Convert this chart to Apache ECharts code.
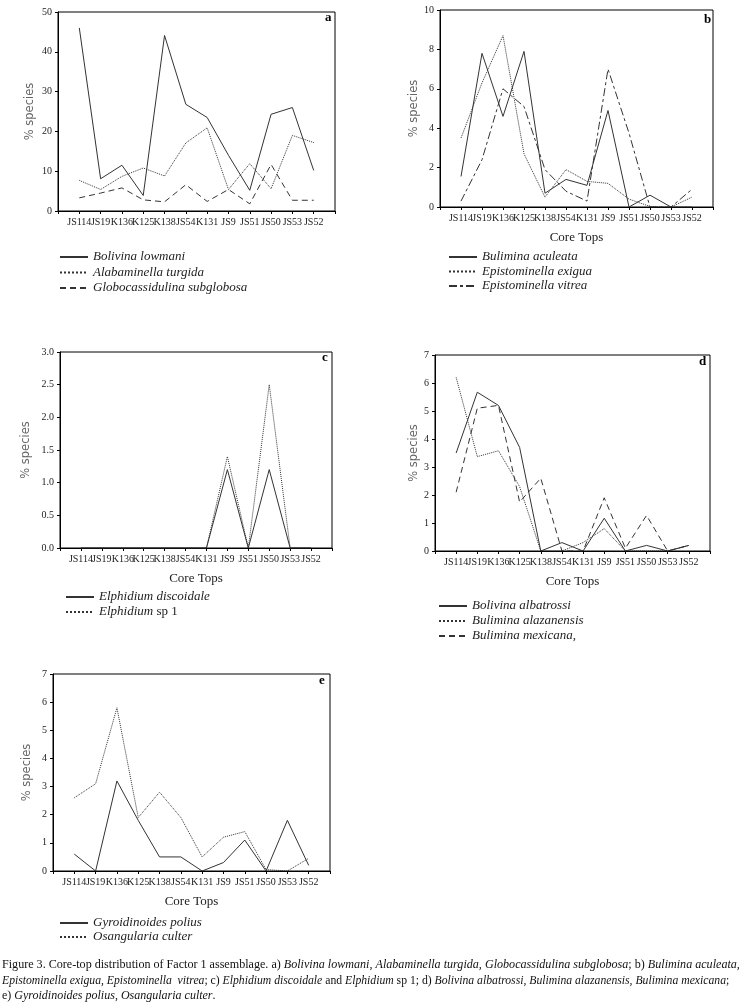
<!DOCTYPE html>
<html>
<head>
<meta charset="utf-8">
<script src="https://cdn.jsdelivr.net/npm/echarts@6/dist/echarts.min.js"></script>
<style>
html,body{margin:0;padding:0;background:#fff;}
#c{width:747px;height:1008px;}
</style>
</head>
<body>
<div id="c"></div>
<script>
// ---- data ----
const coreTops = ['JS114','JS19','K136','K125','K138','JS54','K131','JS9','JS51','JS50','JS53','JS52'];

// panel a
const bolivinaLowmani = [46.0, 8.1, 11.5, 3.9, 44.1, 26.8, 23.5, 14.0, 5.2, 24.3, 26.0, 10.2];
const alabaminellaTurgida = [7.7, 5.4, 8.7, 10.8, 8.8, 17.1, 20.9, 5.4, 11.9, 5.6, 19.0, 17.2];
const globocassidulinaSubglobosa = [3.3, 4.5, 5.8, 2.8, 2.3, 6.6, 2.4, 5.4, 1.8, 11.7, 2.7, 2.7];
// panel b
const buliminaAculeata = [1.55, 7.8, 4.6, 7.9, 0.7, 1.4, 1.1, 4.9, 0, 0.6, 0, 0];
const epistominellaExigua = [3.5, 6.3, 8.7, 2.7, 0.5, 1.9, 1.3, 1.2, 0.4, 0.03, 0, 0.5];
const epistominellaVitrea = [0.3, 2.4, 6.0, 5.1, 1.9, 0.8, 0.3, 7.0, 3.75, 0, 0, 0.9];
// panel c
const elphidiumDiscoidale = [0, 0, 0, 0, 0, 0, 0, 1.2, 0, 1.2, 0, 0];
const elphidiumSp1 = [0, 0, 0, 0, 0, 0, 0, 1.4, 0, 2.5, 0, 0];
// panel d
const bolivinaAlbatrossi = [3.5, 5.67, 5.2, 3.7, 0, 0.3, 0, 1.17, 0, 0.2, 0, 0.2];
const buliminaAlazanensis = [6.2, 3.37, 3.58, 2.3, 0, 0, 0.3, 0.8, 0, 0, 0, 0.2];
const buliminaMexicana = [2.1, 5.1, 5.2, 1.75, 2.6, 0, 0, 1.9, 0.1, 1.27, 0, 0.2];
// panel e
const gyroidinoidesPolius = [0.6, 0, 3.2, 1.8, 0.5, 0.5, 0, 0.3, 1.1, 0, 1.8, 0.2];
const osangulariaCulter = [2.6, 3.1, 5.8, 1.9, 2.8, 1.9, 0.5, 1.2, 1.4, 0.05, 0, 0.45];

// y-axis scales
const yMax = [50, 10, 3, 7, 7];
const yStep = [10, 2, 0.5, 1, 1];

// ---- layout ----
const SERIF = '"Liberation Serif","Times New Roman",serif';
const panels = [
  {left:58, top:12, width:277, height:199, nameGap:22, xName:'', letter:'a', lx:329, ly:19,
   legend:{left:59, top:250, gap:1.5},
   series:[['Bolivina lowmani', bolivinaLowmani, 'solid'], ['Alabaminella turgida', alabaminellaTurgida, 'dotted'], ['Globocassidulina subglobosa', globocassidulinaSubglobosa, [6,4]]]},
  {left:440, top:10, width:273, height:197, nameGap:20, xName:'Core Tops', letter:'b', lx:708, ly:21,
   legend:{left:448, top:250, gap:0.5},
   series:[['Bulimina aculeata', buliminaAculeata, 'solid'], ['Epistominella exigua', epistominellaExigua, 'dotted'], ['Epistominella vitrea', epistominellaVitrea, [8,3,3,3]]]},
  {left:60, top:352, width:272, height:196, nameGap:28, xName:'Core Tops', letter:'c', lx:326, ly:359,
   legend:{left:65, top:590, gap:1},
   series:[['Elphidium discoidale', elphidiumDiscoidale, 'solid'], ['Elphidium sp 1', elphidiumSp1, 'dotted']]},
  {left:435, top:355, width:275, height:196, nameGap:15, xName:'Core Tops', letter:'d', lx:703, ly:363,
   legend:{left:438, top:599, gap:1},
   series:[['Bolivina albatrossi', bolivinaAlbatrossi, 'solid'], ['Bulimina alazanensis', buliminaAlazanensis, 'dotted'], ['Bulimina mexicana,', buliminaMexicana, [6,4]]]},
  {left:53, top:674, width:277, height:197, nameGap:20, xName:'Core Tops', letter:'e', lx:323, ly:682,
   legend:{left:59, top:916, gap:0},
   series:[['Gyroidinoides polius', gyroidinoidesPolius, 'solid'], ['Osangularia culter', osangulariaCulter, 'dotted']]}
];

const cats = [''].concat(coreTops, ['']);
const grid = [], xAxis = [], yAxis = [], series = [], legend = [], graphic = [];

panels.forEach((p, i) => {
  grid.push({left:p.left, top:p.top, width:p.width, height:p.height, show:true,
    borderColor:'#000', borderWidth:1, backgroundColor:'#fff', containLabel:false});
  xAxis.push({type:'category', gridIndex:i, data:cats, boundaryGap:false,
    axisLine:{lineStyle:{color:'#000', width:1}},
    axisTick:{show:true, length:3, lineStyle:{color:'#000'}},
    axisLabel:{interval:0, fontFamily:SERIF, fontSize:10, color:'#222', margin:6},
    name:p.xName, nameLocation:'middle', nameGap:24,
    nameTextStyle:{fontFamily:SERIF, fontSize:13, color:'#222'},
    splitLine:{show:false}});
  yAxis.push({type:'value', gridIndex:i, min:0, max:yMax[i], interval:yStep[i],
    axisLine:{show:true, lineStyle:{color:'#000', width:1}},
    axisTick:{show:true, length:3, lineStyle:{color:'#000'}},
    axisLabel:{fontFamily:SERIF, fontSize:10, color:'#222', margin:6,
      formatter: v => i === 2 ? v.toFixed(1) : String(v)},
    name:'% species', nameLocation:'middle', nameRotate:90, nameGap:p.nameGap,
    nameTextStyle:{fontFamily:'"DejaVu Sans",sans-serif', fontSize:11.5, color:'#666'},
    splitLine:{show:false}});
  const names = [];
  p.series.forEach(s => {
    names.push(s[0]);
    series.push({type:'line', name:s[0], xAxisIndex:i, yAxisIndex:i,
      data:[null].concat(s[1], [null]), symbol:'none', silent:true,
      lineStyle:{color:'#333', width:1, type:s[2]}, itemStyle:{color:'#333'}});
  });
  legend.push({data:names, orient:'vertical', left:p.legend.left, top:p.legend.top,
    itemWidth:28, itemHeight:10, itemGap:p.legend.gap, padding:0, selectedMode:false,
    itemStyle:{opacity:0},
    formatter: name => name.endsWith(' sp 1') ? '{i|' + name.replace(' sp 1', '') + '}{n| sp 1}' : '{i|' + name + '}',
    textStyle:{fontFamily:SERIF, fontSize:13, color:'#222', lineHeight:14,
      rich:{i:{fontFamily:SERIF, fontStyle:'italic', fontSize:13, color:'#222', lineHeight:14},
            n:{fontFamily:SERIF, fontSize:13, color:'#222', lineHeight:14}}}});
  graphic.push({type:'text', left:p.lx - 4, top:p.ly - 8,
    style:{text:p.letter, font:'bold 13px ' + SERIF, fill:'#000'}});
});

// caption
const captionLines = [
  '{n|Figure 3. Core-top distribution of Factor 1 assemblage. a) }{i|Bolivina lowmani, Alabaminella turgida, Globocassidulina subglobosa}{n|; b) }{i|Bulimina aculeata,}',
  '{i|Epistominella exigua, Epistominella  vitrea}{n|; c) }{i|Elphidium discoidale}{n| and }{i|Elphidium}{n| sp 1; d) }{i|Bolivina albatrossi, Bulimina alazanensis, Bulimina mexicana}{n|;}',
  '{n|e) }{i|Gyroidinoides polius, Osangularia culter}{n|.}'
];
const captionSize = [12.1, 11.7, 12];
captionLines.forEach((t, k) => {
  graphic.push({type:'text', left:2, top:959 + k * 15.5,
    style:{text:t, rich:{
      n:{fontFamily:SERIF, fontSize:captionSize[k], fill:'#111'},
      i:{fontFamily:SERIF, fontSize:captionSize[k], fontStyle:'italic', fill:'#111'}}}});
});

const chart = echarts.init(document.getElementById('c'), null, {renderer:'canvas'});
chart.setOption({backgroundColor:'#fff', animation:false, grid, xAxis, yAxis, series, legend, graphic});
</script>
</body>
</html>
